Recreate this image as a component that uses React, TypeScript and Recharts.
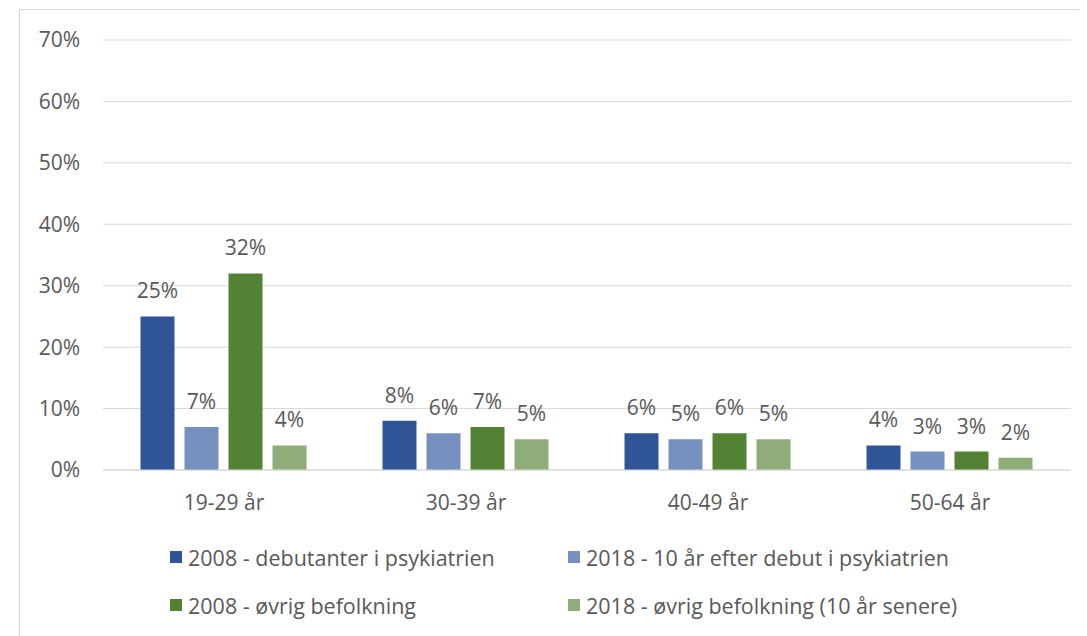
import { Bar, BarChart, CartesianGrid, LabelList, Legend, XAxis, YAxis } from "recharts";

const categories = ["19-29 år", "30-39 år", "40-49 år", "50-64 år"];
const debut2008 = [25, 8, 6, 4];
const debut2018 = [7, 6, 5, 3];
const pop2008 = [32, 7, 6, 3];
const pop2018 = [4, 5, 5, 2];
const yTicks = [0, 10, 20, 30, 40, 50, 60, 70];

const series = [
  { key: "debut2008", name: "2008 - debutanter i psykiatrien", color: "#2F5597" },
  { key: "debut2018", name: "2018 - 10 år efter debut i psykiatrien", color: "#7690BF" },
  { key: "pop2008", name: "2008 - øvrig befolkning", color: "#548235" },
  { key: "pop2018", name: "2018 - øvrig befolkning (10 år senere)", color: "#8FAD78" },
];

const data = categories.map((c, i) => ({
  category: c,
  debut2008: debut2008[i],
  debut2018: debut2018[i],
  pop2008: pop2008[i],
  pop2018: pop2018[i],
}));

const FONT = "'Open Sans', sans-serif";
const TEXT = "#595959";
const FS = 21;

function LegendGrid() {
  return (
    <div
      style={{
        display: "grid",
        gridTemplateColumns: "398px 440px",
        rowGap: 20,
        paddingLeft: 150,
        fontFamily: FONT,
        fontSize: 21.5,
        color: TEXT,
      }}
    >
      {series.map((s) => (
        <div key={s.key} style={{ display: "flex", alignItems: "center", height: 28 }}>
          <span
            style={{ width: 12, height: 12, background: s.color, marginRight: 6, display: "inline-block" }}
          />
          <span style={{ whiteSpace: "nowrap" }}>{s.name}</span>
        </div>
      ))}
    </div>
  );
}

export default function App() {
  return (
    <div
      style={{
        position: "relative",
        left: 11,
        top: 1,
        width: 1080,
        height: 640,
        border: "1px solid #d9d9d9",
        background: "#fff",
      }}
    >
      <BarChart
        width={1080}
        height={640}
        data={data}
        margin={{ top: 30, right: 29, left: 0, bottom: 0 }}
        barCategoryGap="15.5%"
        barGap={10}
      >
        <CartesianGrid stroke="#d9d9d9" vertical={false} />
        <XAxis
          dataKey="category"
          axisLine={{ stroke: "#d9d9d9" }}
          tickLine={false}
          tickSize={0}
          tickMargin={25}
          height={180}
          tick={{ fontSize: FS, fill: TEXT, fontFamily: FONT }}
        />
        <YAxis
          domain={[0, 70]}
          ticks={yTicks}
          tickFormatter={(v) => `${v}%`}
          axisLine={false}
          tickLine={false}
          tickSize={0}
          tickMargin={23}
          width={83}
          tick={{ fontSize: FS, fill: TEXT, fontFamily: FONT }}
        />
        <Legend
          layout="horizontal"
          verticalAlign="middle"
          align="center"
          wrapperStyle={{ top: 533, left: 0, width: 1080 }}
          content={() => <LegendGrid />}
        />
        {series.map((s) => (
          <Bar key={s.key} dataKey={s.key} name={s.name} fill={s.color} isAnimationActive={false}>
            <LabelList
              dataKey={s.key}
              position="top"
              offset={18}
              formatter={(v: number) => `${v}%`}
              style={{ fontSize: FS, fill: TEXT, fontFamily: FONT }}
            />
          </Bar>
        ))}
      </BarChart>
    </div>
  );
}
